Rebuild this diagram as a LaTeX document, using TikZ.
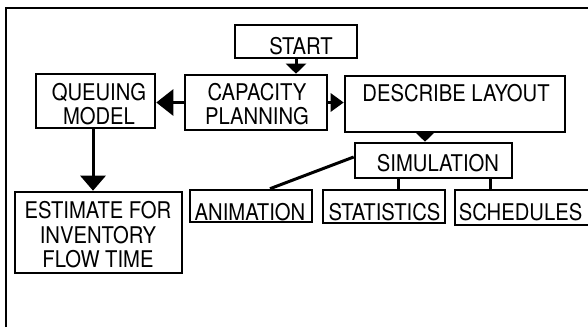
\documentclass[tikz,border=0pt]{standalone}
\usepackage{fontspec}
\setmainfont[FakeStretch=0.88]{TeX Gyre Heros}
\usetikzlibrary{arrows.meta}
\begin{document}
\begin{tikzpicture}[x=1pt,y=-1pt,
  box/.style={draw, line width=2.6pt, inner sep=0pt, rectangle},
  lbl/.style={inner sep=0pt, align=center, font=\fontsize{23}{24.5}\selectfont},
  conn/.style={line width=3pt},
  arr/.style={line width=3pt, -{Triangle[length=#1]}},
  arr/.default={10pt,width=18pt}]
\useasboundingbox (0,0) rectangle (588,327);
% frame
\coordinate (fa) at (6,327);
\coordinate (fb) at (6,8);
\coordinate (fc) at (590,8);
\draw[line width=1.6pt] (fa) -- (fb) -- (fc);
% boxes
\node[box, minimum width=122pt, minimum height=33pt] (start) at (296,41.5) {};
\node[lbl] (startt) at (301,46) {START};
\node[box, minimum width=142pt, minimum height=55pt] (capacity) at (256,102.5) {};
\node[lbl] (capacityt) at (257,104) {CAPACITY\\PLANNING};
\node[box, minimum width=119pt, minimum height=54pt] (queuing) at (95.5,101) {};
\node[lbl] (queuingt) at (99,104) {QUEUING\\MODEL};
\node[box, minimum width=220pt, minimum height=56pt] (describe) at (455,104) {};
\node[lbl] (describet) at (456,93.5) {DESCRIBE LAYOUT};
\node[box, minimum width=157pt, minimum height=35pt] (simulation) at (433.5,160.5) {};
\node[lbl] (simulationt) at (438,163) {SIMULATION};
\node[box, minimum width=167pt, minimum height=81pt] (estimate) at (98.5,232.5) {};
\node[lbl] (estimatet) at (98,235) {ESTIMATE FOR\\INVENTORY\\FLOW TIME};
\node[box, minimum width=122pt, minimum height=32pt] (animation) at (251,206) {};
\node[lbl] (animationt) at (250,212.5) {ANIMATION};
\node[box, minimum width=122pt, minimum height=33pt] (statistics) at (384,206.5) {};
\node[lbl] (statisticst) at (384.5,212) {STATISTICS};
\node[box, minimum width=136pt, minimum height=35pt] (schedules) at (523,207.5) {};
\node[lbl] (schedulest) at (520.5,212) {SCHEDULES};
% connectors
\draw[arr={10pt,width=20pt}] (start.south) -- (start.south |- capacity.north);
\draw[arr={17pt,width=26pt}] (capacity.west) -- (capacity.west -| queuing.east);
\draw[arr={13pt,width=18pt}] (capacity.east) -- (capacity.east -| describe.west);
\coordinate (d1) at ([xshift=-30pt]describe.south);
\draw[arr={10pt,width=20pt}] (d1) -- (d1 |- simulation.north);
\coordinate (q1) at ([xshift=-2.5pt]queuing.south);
\draw[arr={15pt,width=25pt}] (q1) -- (q1 |- estimate.north);
\coordinate (s0) at ([yshift=3.5pt]simulation.west);
\coordinate (a1) at ([xshift=19pt]animation.north);
\draw[conn] (s0) -- (a1);
\coordinate (s1) at ([xshift=-35.5pt]simulation.south);
\coordinate (s2) at ([xshift=56.5pt]simulation.south);
\draw[conn] (s1) -- (s1 |- statistics.north);
\draw[conn] (s2) -- (s2 |- schedules.north);
\end{tikzpicture}
\end{document}
